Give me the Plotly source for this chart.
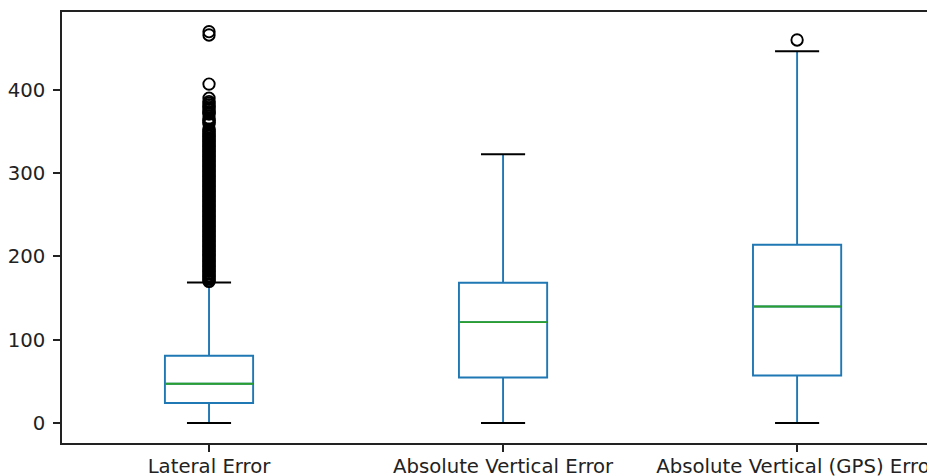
import plotly.graph_objects as go

# ---- data ----
categories = ["Lateral Error", "Absolute Vertical Error", "Absolute Vertical (GPS) Error"]
positions = [1, 2, 3]
q1 = [24.0, 54.7, 57.1]
median = [47.2, 121.2, 140.0]
q3 = [80.8, 168.4, 214.0]
lower_whisker = [0.0, 0.0, 0.0]
upper_whisker = [168.7, 322.8, 446.4]

# outliers of "Lateral Error" (dense column above the whisker)
lateral_outliers = [
    170, 171, 173, 174, 176, 177, 179, 180, 182, 183, 185, 186, 188, 189, 191, 192,
    194, 195, 197, 198, 200, 201, 203, 204, 206, 207, 209, 210, 212, 213, 215, 216,
    218, 219, 221, 222, 224, 225, 227, 228, 230, 231, 233, 234, 236, 237, 239, 240,
    242, 243, 245, 246, 248, 249, 251, 252, 254, 255, 257, 258, 260, 261, 263, 264,
    266, 267, 269, 270, 272, 273, 275, 276, 278, 279, 281, 282, 284, 285, 287, 288,
    290, 291, 293, 294, 296, 297, 299, 300, 302, 303, 305, 306, 308, 309, 311, 312,
    314, 315, 317, 318, 320, 321, 323, 324, 326, 327, 329, 330, 332, 333, 335, 336,
    338, 339, 341, 342, 344, 345, 347, 348, 350, 352, 353, 359, 361, 363, 364, 366,
    371, 372, 374, 376, 378, 380, 382, 384, 386, 390, 407, 466, 470,
]
gps_outliers = [460]

y_ticks = [0, 100, 200, 300, 400]

# ---- style ----
BOX_W = 0.30
CAP_W = 0.15
BLUE = "#1f77b4"
GREEN = "#2ca02c"
LW = 1.9

fig = go.Figure()

fig.add_trace(go.Box(
    x=positions, q1=q1, median=median, q3=q3,
    lowerfence=lower_whisker, upperfence=upper_whisker,
    width=BOX_W, whiskerwidth=0, boxpoints=False,
    fillcolor="rgba(0,0,0,0)", line=dict(color=BLUE, width=LW),
    hoverinfo="skip",
))

# medians (green)
mx, my = [], []
for p, m in zip(positions, median):
    mx += [p - BOX_W / 2, p + BOX_W / 2, None]
    my += [m, m, None]
fig.add_trace(go.Scatter(x=mx, y=my, mode="lines",
                         line=dict(color=GREEN, width=LW), hoverinfo="skip"))

# caps (black)
cx, cy = [], []
for p, lo, hi in zip(positions, lower_whisker, upper_whisker):
    cx += [p - CAP_W / 2, p + CAP_W / 2, None, p - CAP_W / 2, p + CAP_W / 2, None]
    cy += [lo, lo, None, hi, hi, None]
fig.add_trace(go.Scatter(x=cx, y=cy, mode="lines",
                         line=dict(color="black", width=LW), hoverinfo="skip"))

# outliers
ox = [positions[0]] * len(lateral_outliers) + [positions[2]] * len(gps_outliers)
oy = lateral_outliers + gps_outliers
fig.add_trace(go.Scatter(
    x=ox, y=oy, mode="markers",
    marker=dict(symbol="circle-open", size=11.4, color="black", line=dict(width=LW)),
    hoverinfo="skip",
))

# page body has an 8px margin, so the figure is laid out 8px in from the top-left
fig.update_layout(
    width=927, height=468,
    margin=dict(l=54, r=0, t=4, b=33),
    plot_bgcolor="white", paper_bgcolor="white",
    showlegend=False,
    font=dict(family="DejaVu Sans", size=19.7, color="#222"),
)
fig.update_xaxes(
    range=[0.5, 3.469], tickvals=positions, ticktext=categories,
    showline=True, linecolor="#222", linewidth=1.5, mirror=True,
    ticks="outside", ticklen=7, tickwidth=1.5, tickcolor="#222",
    ticklabelstandoff=-2, ticklabeloverflow="allow",
    showgrid=False, zeroline=False, automargin=False,
)
fig.update_yaxes(
    range=[-24, 493.6], tickvals=y_ticks,
    showline=True, linecolor="#222", linewidth=1.5,
    ticks="outside", ticklen=7, tickwidth=1.5, tickcolor="#222",
    ticklabelstandoff=4,
    showgrid=False, zeroline=False, automargin=False,
)

fig.write_html("out.html")
